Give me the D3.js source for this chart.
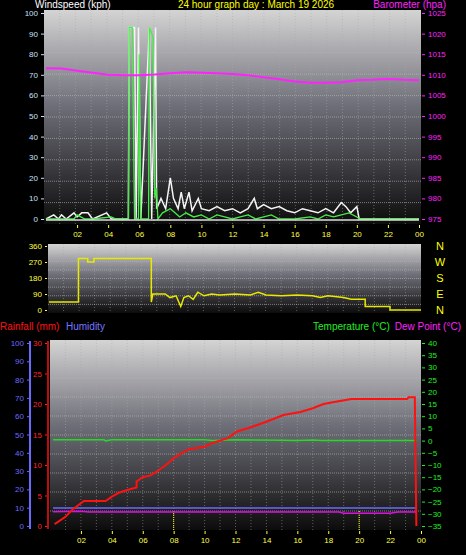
<!DOCTYPE html>
<html><head><meta charset="utf-8">
<script src="https://cdn.jsdelivr.net/npm/d3@7"></script>
<style>
body{margin:0;background:#000;}
svg{display:block;font-family:"Liberation Sans",Arial,sans-serif;}
.domain{display:none}
</style></head>
<body><div id="container"></div>
<script>
// ---- data (hour of day, value) ----
var hourLabels = ["02","04","06","08","10","12","14","16","18","20","22","00"];
var windGust = [[0,0],[0.5,2],[0.8,0],[1,2],[1.3,0],[1.8,3],[2,1],[2.3,3],[2.7,3],[3,0],[3.9,3],[4.2,0],[5.3,0],[5.35,93],[5.7,93],[5.8,0],[5.95,93],[6.1,0],[6.65,93],[6.8,0],[7.05,93],[7.12,5],[7.4,10],[7.7,5],[7.9,15],[8.0,20],[8.2,10],[8.5,5],[8.7,13],[8.9,5],[9.2,13],[9.4,4],[9.8,10],[10,5],[10.5,4],[11,6],[11.5,4],[12,5],[12.5,3],[13,5],[13.4,10],[13.6,5],[14,7],[14.5,5],[15,6],[15.5,4],[16,3],[16.5,5],[17,4],[17.5,3],[18,5],[18.5,3],[19,8],[19.3,6],[19.6,3],[20,6],[20.15,0],[24,0]];
var windAvg = [[0,0],[1.8,0],[2,2],[2.5,0],[3,0],[4.2,1],[4.5,0],[5.3,0],[5.35,93],[5.55,93],[5.7,0],[5.95,0],[6.0,80],[6.1,0],[6.6,0],[6.65,93],[6.9,88],[7.0,10],[7.1,15],[7.2,0],[7.5,3],[8.0,5],[8.3,3],[8.6,1],[9,3],[9.5,1],[10,2],[10.5,0],[11,2],[11.5,1],[12,0],[12.5,1],[13,2],[13.5,0],[14,1],[14.5,2],[15,0],[16,0],[17,1],[17.5,0],[18,2],[18.5,1],[19,2],[19.5,3],[20,1],[20.2,0],[24,0]];
var baro = [[0,1011.6],[1,1011.5],[2,1011],[3,1010.5],[4,1010],[5,1009.9],[6,1009.9],[7,1010.1],[8,1010.4],[9,1010.6],[10,1010.5],[11,1010.4],[12,1010.2],[13,1009.9],[14,1009.4],[15,1008.9],[16,1008.4],[17,1008.1],[18,1008.1],[19,1008.2],[20,1008.7],[21,1008.8],[22,1009],[23,1008.8],[24,1008.7]];
var windDir = [[0,45],[1.9,45],[1.9,290],[2.5,290],[2.5,270],[2.9,270],[2.9,290],[6.6,290],[6.6,45],[6.7,90],[7.5,90],[7.8,70],[8.2,80],[8.5,20],[8.7,70],[9,80],[9.3,60],[9.6,100],[10,80],[10.5,90],[11,85],[12,90],[13,85],[13.5,100],[14,85],[15,80],[16,85],[17,80],[17.5,70],[18,80],[19,70],[19.5,60],[20.4,60],[20.4,20],[22,20],[22,0],[24,0]];
var rain = [[0.3,0.3],[1,1.5],[1.5,2.8],[2.2,4.1],[3.6,4.1],[4,4.8],[4.5,5.5],[5,5.9],[5.6,6.3],[5.6,7.3],[6,8],[6.5,8.3],[6.9,8.9],[7.5,10],[8,11.1],[8.5,11.9],[9,12.6],[10,13],[10.5,13.6],[11.5,14.4],[12.1,15.5],[13,16.2],[14,17.1],[15.1,18.2],[16.2,18.7],[17,19.3],[17.7,20],[18.3,20.3],[19.5,20.8],[23.1,20.8],[23.2,21.1],[23.6,21.1],[23.7,0]];
var temp = [[0.2,0.3],[3.5,0.3],[3.6,-0.1],[4,0.3],[10,0.3],[10.5,0],[12,0.3],[15,0.1],[16,0],[17,0.2],[17.6,0],[23.7,0]];
var humidity = [[0.2,9.8],[23.7,9.8]];
var dewPoint = [[0.2,-29.2],[2,-29],[2.5,-29.3],[10,-29.3],[18.7,-29.3],[19,-29.8],[22,-29.8],[22.5,-29.3],[23.7,-29.3]];

var svg = d3.select("#container").append("svg").attr("width",466).attr("height",555);
svg.append("rect").attr("width",466).attr("height",555).attr("fill","#000");

var defs = svg.append("defs");
var grad = defs.append("linearGradient").attr("id","bg").attr("x1",0).attr("y1",0).attr("x2",0).attr("y2",1);
grad.append("stop").attr("offset","0%").attr("stop-color","#d4d4d4");
grad.append("stop").attr("offset","45%").attr("stop-color","#6e6e78");
grad.append("stop").attr("offset","100%").attr("stop-color","#0c0c0c");

function panel(x0,x1,y0,y1,nh){
	svg.append("rect").attr("x",x0).attr("y",y0).attr("width",x1-x0).attr("height",y1-y0).attr("fill","url(#bg)");
	var g = svg.append("g");
	for (var h=1;h<24;h++){
		var xx = x0+(x1-x0)*h/24;
		g.append("line").attr("x1",xx).attr("x2",xx).attr("y1",y0).attr("y2",y1)
			.attr("stroke","#aaa").attr("stroke-opacity",0.5).attr("stroke-dasharray","1,2");
	}
	for (var i=1;i<nh;i++){
		var yy = y0+(y1-y0)*i/nh;
		g.append("line").attr("x1",x0).attr("x2",x1).attr("y1",yy).attr("y2",yy)
			.attr("stroke","#bbb").attr("stroke-opacity",0.6).attr("stroke-dasharray","1,1");
	}
}
function axisStyle(sel,color){
	sel.selectAll("text").attr("fill",color).style("font-size","8px");
	sel.selectAll("line").attr("stroke",color);
}
function draw(g,xs,ys,data,color,w){
	var fn = d3.line().x(function(d){return xs(d[0]);}).y(function(d){return ys(d[1]);});
	g.append("path").attr("d",fn(data)).attr("fill","none")
		.attr("stroke",color).attr("stroke-width",w);
}

// ---- top panel: wind + barometer ----
var x1 = d3.scaleLinear().domain([0,24]).range([46,419]);
var yW = d3.scaleLinear().domain([0,100]).range([219,13]);
var yB = d3.scaleLinear().domain([975,1025]).range([219,13]);
panel(44,421,10,224,10);
var topG = svg.append("g");
draw(topG,x1,yW,windGust,"#f4f4f4",1.5);
draw(topG,x1,yW,windAvg,"#44ee44",1.3);
draw(topG,x1,yB,baro,"#ff22ff",2);
topG.append("line").attr("x1",46).attr("x2",419).attr("y1",yW(0)+1).attr("y2",yW(0)+1).attr("stroke","#ddd").attr("stroke-width",1.5);

axisStyle(svg.append("g").attr("transform","translate(44,0)")
	.call(d3.axisLeft(yW).tickValues(d3.range(0,101,10)).tickSize(3)),"#c8e0ff");
axisStyle(svg.append("g").attr("transform","translate(422,0)")
	.call(d3.axisRight(yB).tickValues(d3.range(975,1026,5)).tickFormat(d3.format("d")).tickSize(3)),"#ff22ff");
axisStyle(svg.append("g").attr("transform","translate(0,225)")
	.call(d3.axisBottom(x1).tickValues(d3.range(2,25,2)).tickFormat(function(d,i){return hourLabels[i];}).tickSize(3)),"#ffff44");
svg.append("text").attr("x",35).attr("y",8).attr("fill","#fff").style("font-size","10px").text("Windspeed (kph)");
svg.append("text").attr("x",256).attr("y",8).attr("text-anchor","middle").attr("fill","#ffff00").style("font-size","10px").text("24 hour graph day : March 19 2026");
svg.append("text").attr("x",446).attr("y",8).attr("text-anchor","end").attr("fill","#ff22ff").style("font-size","10px").text("Barometer (hpa)");

// ---- middle panel: wind direction ----
var x2 = d3.scaleLinear().domain([0,24]).range([49,421]);
var yD = d3.scaleLinear().domain([0,360]).range([310,246]);
panel(48,421,244,313,8);
draw(svg.append("g"),x2,yD,windDir,"#e8e800",1.5);
axisStyle(svg.append("g").attr("transform","translate(47,0)")
	.call(d3.axisLeft(yD).tickValues([0,90,180,270,360]).tickSize(2)),"#ffff44");
["N","W","S","E","N"].forEach(function(c,i){
	svg.append("text").attr("x",440).attr("y",yD(360-i*90)+4).attr("text-anchor","middle")
		.attr("fill","#ffff00").style("font-size","11px").text(c);
});

// ---- bottom panel: rain, humidity, temperature, dew point ----
var x3 = d3.scaleLinear().domain([0,24]).range([50,421]);
var yR = d3.scaleLinear().domain([0,30]).range([526,343]);
var yH = d3.scaleLinear().domain([0,100]).range([526,343]);
var yT = d3.scaleLinear().domain([-35,40]).range([526,343]);
panel(50,421,340,530,10);
var bot = svg.append("g");
[8,20].forEach(function(h){
	bot.append("line").attr("x1",x3(h)).attr("x2",x3(h)).attr("y1",511).attr("y2",530)
		.attr("stroke","#ffff00").attr("stroke-dasharray","1,1");
});
draw(bot,x3,yH,humidity,"#6a6aff",1.5);
draw(bot,x3,yT,dewPoint,"#dd11dd",1.5);
draw(bot,x3,yT,temp,"#22dd22",1.5);
draw(bot,x3,yR,rain,"#ff1111",2);

svg.append("line").attr("x1",30).attr("x2",30).attr("y1",341).attr("y2",529).attr("stroke","#6a6aff").attr("stroke-width",2);
svg.append("line").attr("x1",48).attr("x2",48).attr("y1",341).attr("y2",529).attr("stroke","#ff1111").attr("stroke-width",1.5);
axisStyle(svg.append("g").attr("transform","translate(29,0)")
	.call(d3.axisLeft(yH).tickValues(d3.range(0,101,10)).tickSize(2)),"#6a6aff");
axisStyle(svg.append("g").attr("transform","translate(47,0)")
	.call(d3.axisLeft(yR).tickValues(d3.range(0,31,5)).tickSize(2)),"#ff2222");
axisStyle(svg.append("g").attr("transform","translate(422,0)")
	.call(d3.axisRight(yT).tickValues(d3.range(-35,41,5)).tickSize(3)),"#22ee22");
axisStyle(svg.append("g").attr("transform","translate(0,531)")
	.call(d3.axisBottom(x3).tickValues(d3.range(2,25,2)).tickFormat(function(d,i){return hourLabels[i];}).tickSize(3)),"#ffff44");
svg.append("text").attr("x",0).attr("y",330).attr("fill","#ff1111").style("font-size","10px").text("Rainfall (mm)");
svg.append("text").attr("x",66).attr("y",330).attr("fill","#7777ff").style("font-size","10px").text("Humidity");
svg.append("text").attr("x",313).attr("y",330).attr("fill","#22ee22").style("font-size","10px").text("Temperature (°C)");
svg.append("text").attr("x",461).attr("y",330).attr("text-anchor","end").attr("fill","#ff22ff").style("font-size","10px").text("Dew Point (°C)");
</script>
</body></html>
